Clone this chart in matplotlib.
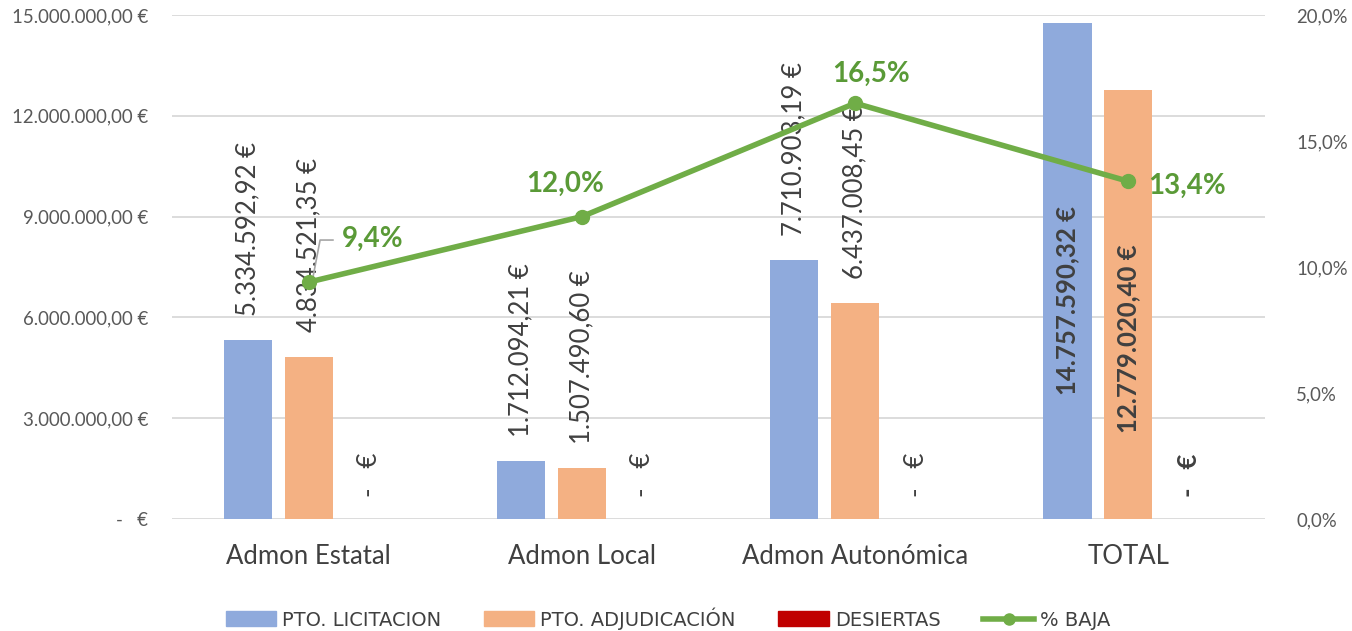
import matplotlib
matplotlib.use("Agg")
import matplotlib.pyplot as plt
from matplotlib.lines import Line2D
from matplotlib.patches import Patch
import numpy as np

plt.rcParams['font.family'] = ['Lato', 'DejaVu Sans']

categories = ["Admon Estatal", "Admon Local", "Admon Autonómica", "TOTAL"]
licitacion = [5334592.92, 1712094.21, 7710903.19, 14757590.32]
adjudicacion = [4834521.35, 1507490.60, 6437008.45, 12779020.40]
desiertas = [0.0, 0.0, 0.0, 0.0]
baja = [0.094, 0.120, 0.165, 0.134]
baja_labels = ["9,4%", "12,0%", "16,5%", "13,4%"]
left_ticks = [0, 3e6, 6e6, 9e6, 12e6, 15e6]
left_tick_labels = ["-   €", "3.000.000,00 €", "6.000.000,00 €", "9.000.000,00 €",
                    "12.000.000,00 €", "15.000.000,00 €"]
right_ticks = [0, 0.05, 0.10, 0.15, 0.20]
right_tick_labels = ["0,0%", "5,0%", "10,0%", "15,0%", "20,0%"]

C_BLUE = "#8FAADC"
C_ORANGE = "#F4B183"
C_RED = "#C00000"
C_GREEN = "#70AD47"
C_GREEN_TXT = "#5A9A37"
C_TXT = "#404040"
C_TICK = "#595959"
C_GRID = "#D9D9D9"


def eur(v):
    s = f"{v:,.2f}"
    s = s.replace(",", "X").replace(".", ",").replace("X", ".")
    return s + " €"


fig = plt.figure(figsize=(13.52, 6.31), dpi=100)
ax = fig.add_axes([0.1272, 0.1775, 0.8085, 0.7987])
ax2 = ax.twinx()

x = np.arange(len(categories))
off = 0.223
w = 0.176
ax.bar(x - off, licitacion, w, color=C_BLUE, zorder=2)
ax.bar(x, adjudicacion, w, color=C_ORANGE, zorder=2)
ax.bar(x + off, desiertas, w, color=C_RED, zorder=2)

ax.set_xlim(-0.5, len(categories) - 0.5)
ax.set_ylim(0, 15e6)
ax.set_yticks(left_ticks)
ax.set_yticklabels(left_tick_labels)
ax.yaxis.grid(True, color=C_GRID, linewidth=1.3, zorder=0)
ax.set_axisbelow(True)
for s in ax.spines.values():
    s.set_visible(False)
for s in ax2.spines.values():
    s.set_visible(False)
ax.tick_params(axis='y', length=0, pad=17, labelsize=13.4, labelcolor=C_TICK)
ax.tick_params(axis='x', length=0, pad=18, labelsize=18.5, labelcolor=C_TXT)
ax.set_xticks(x)
ax.set_xticklabels(categories)

LFS = 18.5
gap = 0.72e6
for i in range(3):
    ax.text(x[i] - off, licitacion[i] + gap, eur(licitacion[i]), rotation=90,
            ha='center', va='bottom', fontsize=LFS, color=C_TXT, zorder=3)
    ax.text(x[i], adjudicacion[i] + gap, eur(adjudicacion[i]), rotation=90,
            ha='center', va='bottom', fontsize=LFS, color=C_TXT, zorder=3)
    ax.text(x[i] + off, 0.65e6, "-   €", rotation=90, ha='center', va='bottom',
            fontsize=LFS, color=C_TXT, zorder=3)
i = 3
ax.text(x[i] - off, 3.69e6, eur(licitacion[i]), rotation=90, ha='center', va='bottom',
        fontsize=LFS, fontweight='bold', color=C_TXT, zorder=3)
ax.text(x[i], 2.56e6, eur(adjudicacion[i]), rotation=90, ha='center', va='bottom',
        fontsize=LFS, fontweight='bold', color=C_TXT, zorder=3)
ax.text(x[i] + off, 0.65e6, "-   €", rotation=90, ha='center', va='bottom',
        fontsize=LFS, fontweight='bold', color=C_TXT, zorder=3)

# line
ax2.plot(x, baja, color=C_GREEN, linewidth=4, marker='o', markersize=10, zorder=5)
ax2.set_ylim(0, 0.20)
ax2.set_yticks(right_ticks)
ax2.set_yticklabels(right_tick_labels)
ax2.tick_params(axis='y', length=0, pad=22.5, labelsize=13.4, labelcolor=C_TICK)

lab_pos = [(0.12, 0.1113, 'left'), (-0.06, 0.1328, 'center'),
           (0.06, 0.1767, 'center'), (0.074, 0.1321, 'left')]
for i, (dx, yy, ha) in enumerate(lab_pos):
    ax2.text(x[i] + dx, yy, baja_labels[i], ha=ha, va='center', fontsize=20,
             fontweight='bold', color=C_GREEN_TXT, zorder=6)
# leader line for first label
ax2.plot([x[0] + 0.012, x[0] + 0.042, x[0] + 0.089], [0.0937, 0.1107, 0.1107],
         color="#A6A6A6", linewidth=1.2, zorder=4)

handles = [Patch(color=C_BLUE), Patch(color=C_ORANGE), Patch(color=C_RED),
           Line2D([0], [0], color=C_GREEN, linewidth=4, marker='o', markersize=8)]
labels = ["PTO. LICITACION", "PTO. ADJUDICACIÓN", "DESIERTAS", "% BAJA"]
fig.legend(handles, labels, loc='center', bbox_to_anchor=(0.494, 0.02), ncol=4,
           frameon=False, handlelength=2.6, handleheight=0.8,
           handletextpad=0.3, columnspacing=2.2,
           prop={'family': ['Liberation Sans Narrow', 'DejaVu Sans'], 'size': 14},
           labelcolor=C_TXT)

fig.savefig("out.png", dpi=100)
